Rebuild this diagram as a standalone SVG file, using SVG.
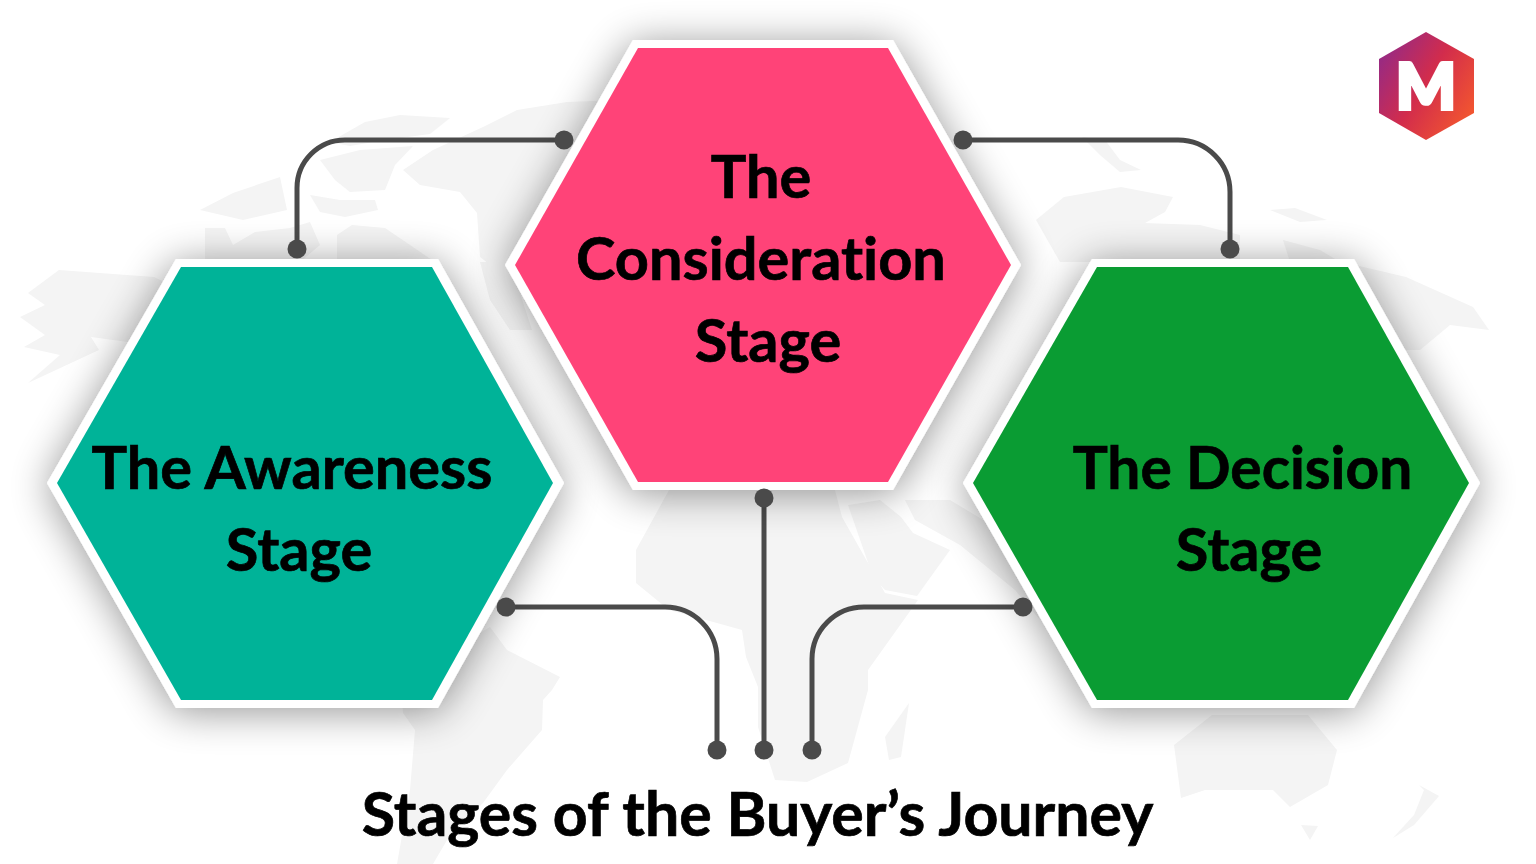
<svg xmlns="http://www.w3.org/2000/svg" width="1536" height="864" viewBox="0 0 1536 864">
<style>
.map{fill:#f4f4f4}
.hex-o{fill:#fff;filter:url(#sh)}
.lbl{font-family:"Lato","Liberation Sans",sans-serif;font-weight:700;font-size:59.5px;fill:#000;stroke:#000;stroke-width:.7;text-anchor:middle;font-variant-ligatures:none}
.ln{fill:none;stroke:#4a4a4a;stroke-width:5}
.dot{fill:#4a4a4a}
</style>
<defs>
<filter id="sh" x="-20%" y="-20%" width="140%" height="140%"><feGaussianBlur in="SourceAlpha" stdDeviation="20"/><feOffset dx="0" dy="4"/><feComponentTransfer><feFuncA type="linear" slope="0.42"/></feComponentTransfer><feMerge><feMergeNode/><feMergeNode in="SourceGraphic"/></feMerge></filter>
<linearGradient id="lg" x1="0" y1="0.1" x2="1" y2="0.8"><stop offset="0" stop-color="#8e2a8c"/><stop offset="0.5" stop-color="#d22c4c"/><stop offset="1" stop-color="#f4582e"/></linearGradient>
</defs>
<rect width="1536" height="864" fill="#fff"/>
<g id="map">
<path class="map" d="M28 293 59 270 154 277 200 300 150 345 91 337 99 350 71 363 28 383 60 355 24 347 45 335 20 317 45 305Z"/>
<path class="map" d="M205 262 205 228 225 228 233 245 255 232 290 228 310 222 320 245 300 262Z"/>
<path class="map" d="M337 262 337 235 352 225 385 228 410 245 435 262Z"/>
<path class="map" d="M200 210 233 193 280 177 287 210 243 220Z"/>
<path class="map" d="M310 195 340 200 375 200 378 210 345 217 320 212Z"/>
<path class="map" d="M320 160 360 150 413 146 395 165 385 190 350 192 335 180Z"/>
<path class="map" d="M330 142 365 122 400 115 450 118 430 134 385 140 350 146Z"/>
<path class="map" d="M403 170 433 150 483 127 517 110 567 102 620 100 560 270 493 267 480 257 477 213 460 192 420 185Z"/>
<path class="map" d="M480 262 510 262 532 330 510 330 490 300Z"/>
<path class="map" d="M490 627 507 650 560 677 552 690 543 700 542 730 507 770 483 803 450 835 433 864 397 864 410 790 415 730 403 713 400 680Z"/>
<path class="map" d="M669 490 636 550 636 583 669 610 717 623 742 630 746 657 758 687 758 727 775 780 807 782 848 763 868 690 868 670 918 600 885 593 842 517 835 490Z"/>
<path class="map" d="M848 505 873 577 885 590 917 596 950 550 913 533 901 517 880 500Z"/>
<path class="map" d="M885 737 909 703 901 757 889 760Z"/>
<path class="map" d="M950 500 1000 530 1040 620 1015 590 960 545 915 520 905 500Z"/>
<path class="map" d="M1036 220 1064 197 1121 187 1173 197 1165 212 1145 223 1200 225 1240 235 1240 262 1060 262Z"/>
<path class="map" d="M1082 137 1105 140 1120 160 1141 170 1120 172 1100 155Z"/>
<path class="map" d="M1270 210 1295 208 1327 220 1300 222Z"/>
<path class="map" d="M1283 240 1320 250 1340 262 1290 262Z"/>
<path class="map" d="M1355 265 1406 277 1473 307 1489 330 1450 325 1420 350 1370 350Z"/>
<path class="map" d="M1174 745 1212 715 1308 715 1337 750 1328 785 1290 807 1273 790 1205 790 1181 798Z"/>
<path class="map" d="M1301 825 1318 826 1310 840Z"/>
<path class="map" d="M1393 838 1414 815 1424 790 1419 785 1439 796 1414 825Z"/>
</g>
<g id="connectors">
<path class="ln" d="M564 140H345A48 48 0 0 0 297 188V249"/>
<path class="ln" d="M963 140H1178A52 52 0 0 1 1230 192V249"/>
<path class="ln" d="M764 498V750"/>
<path class="ln" d="M506 607H665A52 52 0 0 1 717 659V750"/>
<path class="ln" d="M1023 607H864A52 52 0 0 0 812 659V750"/>
</g>
<g id="awareness">
<polygon class="hex-o" points="47,483 176,259 438,259 564,483 438,708 176,708"/>
<polygon fill="#00b398" points="57,483 181,267 432,267 553,483 432,700 181,700"/>
<text class="lbl" x="292" y="489">The Awareness</text>
<text class="lbl" x="299" y="571">Stage</text>
</g>
<g id="decision">
<polygon class="hex-o" points="963,483 1092,259 1354,259 1480,483 1354,708 1092,708"/>
<polygon fill="#0a9c33" points="973,483 1097,267 1348,267 1469,483 1348,700 1097,700"/>
<text class="lbl" x="1242.500" y="489" style="font-size:58.700px">The Decision</text>
<text class="lbl" x="1249" y="571">Stage</text>
</g>
<g id="consideration">
<polygon class="hex-o" points="505,265 633,40 893,40 1021,265 893,490 633,490"/>
<polygon fill="#ff4378" points="515,265 638,48 888,48 1011,265 888,482 638,482"/>
<text class="lbl" x="761" y="198">The</text>
<text class="lbl" x="761" y="280">Consideration</text>
<text class="lbl" x="768" y="362">Stage</text>
</g>
<g id="dots">
<circle class="dot" cx="564" cy="140" r="9.5"/>
<circle class="dot" cx="297" cy="249" r="9.5"/>
<circle class="dot" cx="963" cy="140" r="9.5"/>
<circle class="dot" cx="1230" cy="249" r="9.5"/>
<circle class="dot" cx="764" cy="498" r="9.5"/>
<circle class="dot" cx="506" cy="607" r="9.5"/>
<circle class="dot" cx="1023" cy="607" r="9.5"/>
<circle class="dot" cx="717" cy="750" r="9.5"/>
<circle class="dot" cx="764" cy="750" r="9.5"/>
<circle class="dot" cx="812" cy="750" r="9.5"/>
</g>
<g id="logo">
<polygon fill="url(#lg)" points="1426,32 1474,59 1474,113 1426,140 1379,113 1379,59"/>
<text x="1426" y="108.500" text-anchor="middle" font-family="Lato,'Liberation Sans',sans-serif" font-weight="900" font-size="63" fill="#fff" stroke="#fff" stroke-width="4">M</text>
</g>
<g id="title">
<text class="lbl" x="757.500" y="836" style="font-size:60.800px">Stages of the Buyer’s Journey</text>
</g>
</svg>
